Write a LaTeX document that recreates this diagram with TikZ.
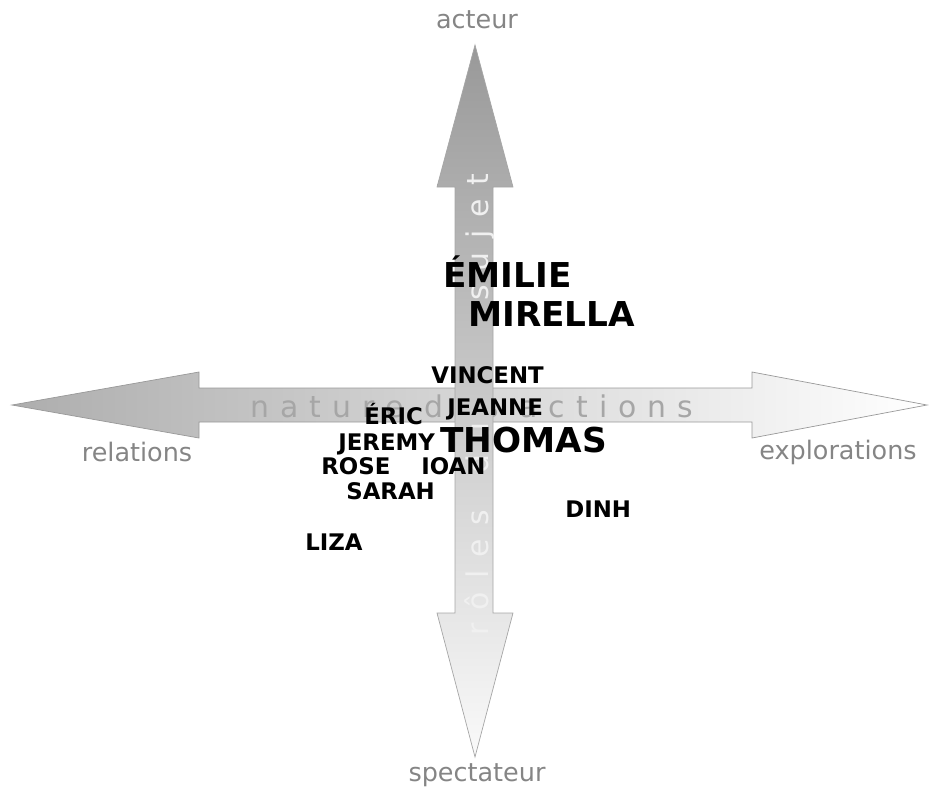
\documentclass[tikz,border=0pt]{standalone}
\usepackage{fontspec}
\setmainfont{DejaVu Sans}
\newfontfamily\spacedfont[LetterSpace=37]{DejaVu Sans}
\newfontfamily\widefont[LetterSpace=45]{DejaVu Sans}
\usepackage{tikz}
\usetikzlibrary{positioning}

\tikzset{
  pole/.style={text=black!48, font=\fontsize{14.5}{16}\selectfont},
  nom/.style={anchor=base west, inner sep=0pt, font=\bfseries\fontsize{13}{15}\selectfont},
  grandnom/.style={anchor=base west, inner sep=0pt, font=\bfseries\fontsize{19.5}{22}\selectfont},
  axetexte/.style={anchor=base west, inner sep=0pt, font=\spacedfont\fontsize{17}{19}\selectfont},
}

\begin{document}
\begin{tikzpicture}[x=0.02cm, y=-0.02cm]
    \useasboundingbox (0,0) rectangle (930,789);
    % axe horizontal
    \shadedraw[left color=black!32, right color=white, draw=black!40]
      (12,405) -- (199,372) -- (199,388) -- (752,388) -- (752,372) -- (927,405)
      -- (752,438) -- (752,422) -- (199,422) -- (199,438) -- cycle;
    \node[axetexte, text=black!35] (nature) at (250,417) {nature des actions};
    % axe vertical
    \shadedraw[top color=black!40, bottom color=black!2, draw=black!35]
      (475,45) -- (513,187) -- (493,187) -- (493,613) -- (513,613) -- (475,757)
      -- (437,613) -- (455,613) -- (455,187) -- (437,187) -- cycle;
    \node[axetexte, font=\widefont\fontsize{17}{19}\selectfont, rotate=90, text=white!94!black] (roles)
      at (488,636) {rôles\hspace{1.2em}du\hspace{4.1em}sujet};
    % les poles
    \node[pole] (acteur) at (477,20) {acteur};
    \node[pole] (spectateur) at (477,775) {spectateur};
    \node[pole] (relations) at (137,452) {relations};
    \node[pole] (explorations) at (838,452) {explorations};
    % les participants
    \node[grandnom] (emilie) at (443,287) {ÉMILIE};
    \node[grandnom] (mirella) at (468,326) {MIRELLA};
    \node[nom] (vincent) at (431,383) {VINCENT};
    \node[nom] (jeanne) at (447,415) {JEANNE};
    \node[nom] (eric) at (364,424) {ÉRIC};
    \node[nom] (jeremy) at (338,450) {JEREMY};
    \node[grandnom] (thomas) at (440,452) {THOMAS};
    \node[nom] (rose) at (321,474) {ROSE};
    \node[nom] (ioan) at (421,474) {IOAN};
    \node[nom] (sarah) at (346,499) {SARAH};
    \node[nom] (dinh) at (565,517) {DINH};
    \node[nom] (liza) at (305,550) {LIZA};
\end{tikzpicture}
\end{document}
